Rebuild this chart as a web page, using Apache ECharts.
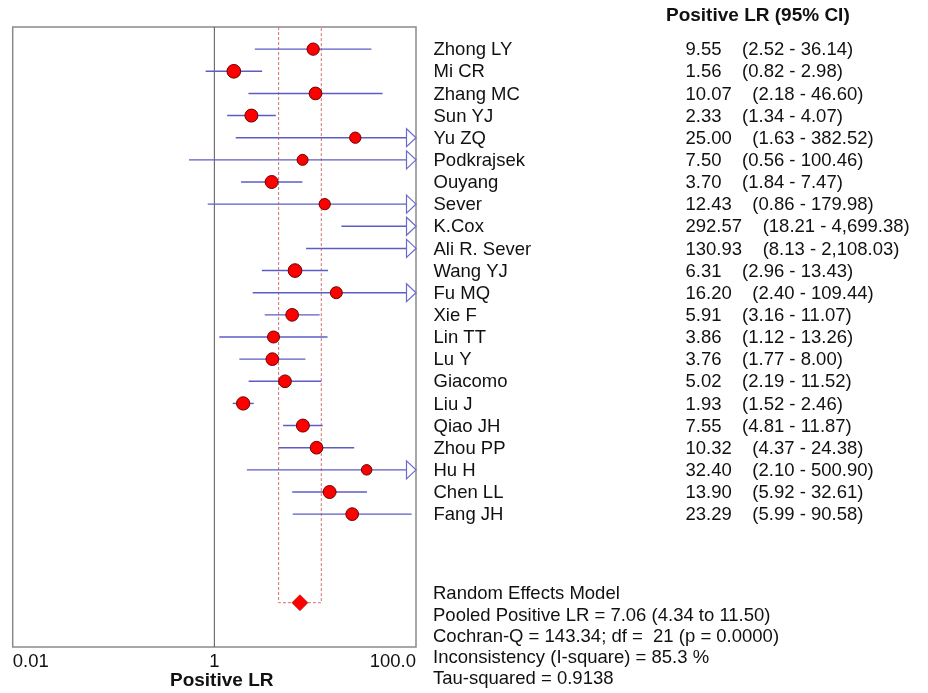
<!DOCTYPE html>
<html>
<head>
<meta charset="utf-8">
<script src="https://cdn.jsdelivr.net/npm/echarts@6/dist/echarts.min.js"></script>
<style>
html,body{margin:0;padding:0;background:#fff;}
#chart{width:928px;height:693px;}
</style>
</head>
<body>
<div id="chart"></div>
<script>
// ---- data ----
const studies = ['Zhong LY','Mi CR','Zhang MC','Sun YJ','Yu ZQ','Podkrajsek','Ouyang','Sever','K.Cox','Ali R. Sever','Wang YJ','Fu MQ','Xie F','Lin TT','Lu Y','Giacomo','Liu J','Qiao JH','Zhou PP','Hu H','Chen LL','Fang JH'];
const lr    = [9.55,1.56,10.07,2.33,25.00,7.50,3.70,12.43,292.57,130.93,6.31,16.20,5.91,3.86,3.76,5.02,1.93,7.55,10.32,32.40,13.90,23.29];
const lower = [2.52,0.82,2.18,1.34,1.63,0.56,1.84,0.86,18.21,8.13,2.96,2.40,3.16,1.12,1.77,2.19,1.52,4.81,4.37,2.10,5.92,5.99];
const upper = [36.14,2.98,46.60,4.07,382.52,100.46,7.47,179.98,4699.38,2108.03,13.43,109.44,11.07,13.26,8.00,11.52,2.46,11.87,24.38,500.90,32.61,90.58];
const lrText = ['9.55','1.56','10.07','2.33','25.00','7.50','3.70','12.43','292.57','130.93','6.31','16.20','5.91','3.86','3.76','5.02','1.93','7.55','10.32','32.40','13.90','23.29'];
const ciText = ['(2.52 - 36.14)','(0.82 - 2.98)','(2.18 - 46.60)','(1.34 - 4.07)','(1.63 - 382.52)','(0.56 - 100.46)','(1.84 - 7.47)','(0.86 - 179.98)','(18.21 - 4,699.38)','(8.13 - 2,108.03)','(2.96 - 13.43)','(2.40 - 109.44)','(3.16 - 11.07)','(1.12 - 13.26)','(1.77 - 8.00)','(2.19 - 11.52)','(1.52 - 2.46)','(4.81 - 11.87)','(4.37 - 24.38)','(2.10 - 500.90)','(5.92 - 32.61)','(5.99 - 90.58)'];
// relative study weights (drawn as marker size)
const weights = [12.3,13.7,12.7,13,11.3,11,13,11.3,11,11,13.7,12,12.7,12,12.7,12.7,13.3,13,12.7,10.5,13,12.7];
const pooled = {est:7.06, lo:4.34, hi:11.50, row:25};
const xTicks = {'-2':'0.01','0':'1','2':'100.0'};
const summaryLines = ['Random Effects Model','Pooled Positive LR = 7.06 (4.34 to 11.50)','Cochran-Q = 143.34; df =  21 (p = 0.0000)','Inconsistency (I-square) = 85.3 %','Tau-squared = 0.9138'];

const XMIN = 0.01, XMAX = 100;
const FONT = 'Liberation Sans, Arial, sans-serif';
const chart = echarts.init(document.getElementById('chart'), null, {renderer:'canvas'});

const ciData = studies.map((s,i)=>[lower[i], upper[i], i]);
const ptData = [];
studies.forEach((s,i)=>{ if (lr[i] <= XMAX) ptData.push([lr[i], i, weights[i]]); });
const txtData = studies.map((s,i)=>[XMAX, i, s, lrText[i] + '    ' + ciText[i]]);

const option = {
  animation:false,
  backgroundColor:'#fff',
  grid:{left:12.7, right:512, top:27, bottom:46, show:true, borderColor:'#8a8a8a', borderWidth:1.5, backgroundColor:'transparent', containLabel:false},
  xAxis:{type:'log', logBase:10, min:XMIN, max:XMAX,
    axisLine:{show:false}, axisTick:{show:false}, splitLine:{show:false},
    axisLabel:{show:true, margin:5, fontSize:18.5, fontFamily:FONT, color:'#111',
      showMinLabel:true, showMaxLabel:true, alignMinLabel:'left', alignMaxLabel:'right',
      formatter:(v)=>{ const e = Math.round(Math.log10(v)); return xTicks[String(e)] || ''; }}
  },
  yAxis:{type:'value', min:-1, max:27, inverse:true, show:false},
  series:[
    { // reference line at 1
      type:'line', data:[[1,-1],[1,27]], symbol:'none', silent:true,
      lineStyle:{color:'#555', width:1}, z:1
    },
    { // pooled CI dashed box
      type:'line', data:[[pooled.lo,-1],[pooled.lo,pooled.row],[pooled.hi,pooled.row],[pooled.hi,-1]], symbol:'none', silent:true,
      lineStyle:{color:'#d27272', width:1, type:[3,2]}, z:2
    },
    { // CI lines and arrows
      type:'custom', z:3, silent:true,
      data:ciData,
      renderItem:(params, api)=>{
        const row = api.value(2);
        const lo = Math.max(api.value(0), XMIN), hiRaw = api.value(1), hi = Math.min(hiRaw, XMAX);
        const p1 = api.coord([lo,row]), p2 = api.coord([hi,row]);
        const children = [{type:'line', shape:{x1:p1[0], y1:p1[1], x2:p2[0], y2:p2[1]}, style:{stroke:'#5c5cc4', lineWidth:1.4}}];
        if (hiRaw > XMAX) {
          children.push({type:'polygon', shape:{points:[[p2[0]-9.5,p2[1]-9],[p2[0],p2[1]],[p2[0]-9.5,p2[1]+9]]}, style:{fill:'#fff', stroke:'#6a6acc', lineWidth:1.2}});
        }
        return {type:'group', children};
      }
    },
    { // study estimates
      type:'scatter', z:4, silent:true, data:ptData, symbol:'circle',
      symbolSize:(v)=>v[2],
      itemStyle:{color:'#ff0000', borderColor:'#6e0000', borderWidth:1, opacity:1}
    },
    { // pooled diamond
      type:'scatter', z:5, silent:true, data:[[pooled.est, pooled.row]], symbol:'diamond', symbolSize:[16,16],
      itemStyle:{color:'#ff0000', borderColor:'#b00000', borderWidth:0.6, opacity:1}
    },
    { // right-side table text
      type:'custom', z:6, silent:true, data:txtData,
      renderItem:(params, api)=>{
        const p = api.coord([api.value(0), api.value(1)]);
        const name = txtData[params.dataIndex][2], vals = txtData[params.dataIndex][3];
        return {type:'group', children:[
          {type:'text', x:p[0]+17.5, y:p[1]+1, style:{text:name, font:'18.5px '+FONT, fill:'#111', textAlign:'left', textVerticalAlign:'middle'}},
          {type:'text', x:p[0]+269.5, y:p[1]+1, style:{text:vals, font:'18.5px '+FONT, fill:'#111', textAlign:'left', textVerticalAlign:'middle'}}
        ]};
      }
    }
  ],
  graphic:[
    {type:'text', left:666, top:6, style:{text:'Positive LR (95% CI)', font:'bold 19px '+FONT, fill:'#111'}},
    {type:'text', left:433, top:583.5, style:{text:summaryLines.join('\n'), font:'18.5px '+FONT, fill:'#111', lineHeight:21.3}},
    {type:'text', left:170, top:671.5, style:{text:'Positive LR', font:'bold 19px '+FONT, fill:'#111'}}
  ]
};
chart.setOption(option);
</script>
</body>
</html>
